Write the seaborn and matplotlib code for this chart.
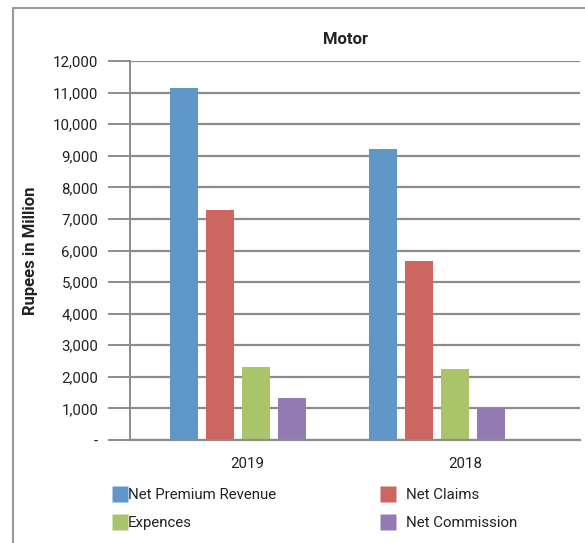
import matplotlib
matplotlib.use("Agg")
import matplotlib.pyplot as plt
from matplotlib.lines import Line2D
import seaborn as sns
import pandas as pd

years = ["2019", "2018"]
series = ["Net Premium Revenue", "Net Claims", "Expences", "Net Commission"]
net_premium = [11140, 9210]
net_claims = [7280, 5680]
expences = [2310, 2250]
net_commission = [1330, 1010]
colors = ["#6097C9", "#CD6660", "#A9C46B", "#937AB2"]
yticks = list(range(0, 12001, 1000))

rows = []
for name, vals in zip(series, [net_premium, net_claims, expences, net_commission]):
    for y, v in zip(years, vals):
        rows.append({"Year": y, "Series": name, "Value": v})
df = pd.DataFrame(rows)

sns.set_theme(style="white")
plt.rcParams["font.family"] = ["Roboto", "DejaVu Sans"]

W, H = 585, 543
fig = plt.figure(figsize=(W / 100, H / 100), dpi=100)
ax = fig.add_axes([130 / W, (H - 440) / H, 450 / W, 379 / H])

sns.barplot(data=df, x="Year", y="Value", hue="Series", order=years,
            hue_order=series, palette=colors, width=0.724, gap=0.22,
            saturation=1, ax=ax, legend=False, edgecolor="none")

grid_c = "#8C8C8C"
txt_c = "#222222"
fs = 10.8
ax.set_ylim(0, 12000)
ax.set_xlim(-0.543, 1.719)
ax.set_yticks(yticks)
ax.set_yticklabels(["-" if v == 0 else f"{v:,}" for v in yticks],
                   fontsize=fs, color=txt_c)
ax.set_xticks([0.045, 1.141])
ax.set_xticklabels(years, fontsize=fs, color=txt_c)
ax.tick_params(axis="x", length=0, pad=12)
ax.tick_params(axis="y", length=22 / 1.39, width=1.4, color=grid_c, pad=7, left=True)
ax.yaxis.grid(True, color=grid_c, linewidth=1.6)
ax.set_axisbelow(True)
for s in ["top", "right"]:
    ax.spines[s].set_visible(False)
ax.spines["left"].set_color(grid_c)
ax.spines["left"].set_linewidth(1.4)
ax.spines["bottom"].set_color(grid_c)
ax.spines["bottom"].set_linewidth(1.6)
ax.set_xlabel("")
ax.set_ylabel("Rupees in Million", fontsize=12, fontweight="bold", color=txt_c)
ax.yaxis.set_label_coords(-92 / 450, 0.5)
ax.set_title("Motor", fontsize=12, fontweight="bold", color=txt_c, pad=12, x=0.478)

def make_handle(c):
    return Line2D([0], [0], marker="s", linestyle="none", markersize=11,
                  markerfacecolor=c, markeredgecolor="none")

common = dict(loc="upper left", frameon=False, fontsize=fs, labelspacing=0.95,
              handlelength=1.0, labelcolor=txt_c, borderaxespad=0, borderpad=0)
leg1 = fig.legend([make_handle(colors[0]), make_handle(colors[2])],
                  [series[0], series[2]], bbox_to_anchor=(112 / W, 1 - 488 / H),
                  handletextpad=0.05, **common)
leg2 = fig.legend([make_handle(colors[1]), make_handle(colors[3])],
                  [series[1], series[3]], bbox_to_anchor=(380 / W, 1 - 488 / H),
                  handletextpad=0.75, **common)

# outer frame
fig.add_artist(Line2D([13 / W, 13 / W], [0, 1 - 8 / H], transform=fig.transFigure,
                      color="#999999", linewidth=1.5))
fig.add_artist(Line2D([13 / W, 1], [1 - 8 / H, 1 - 8 / H], transform=fig.transFigure,
                      color="#999999", linewidth=1.5))

fig.savefig("out.png", dpi=100)
